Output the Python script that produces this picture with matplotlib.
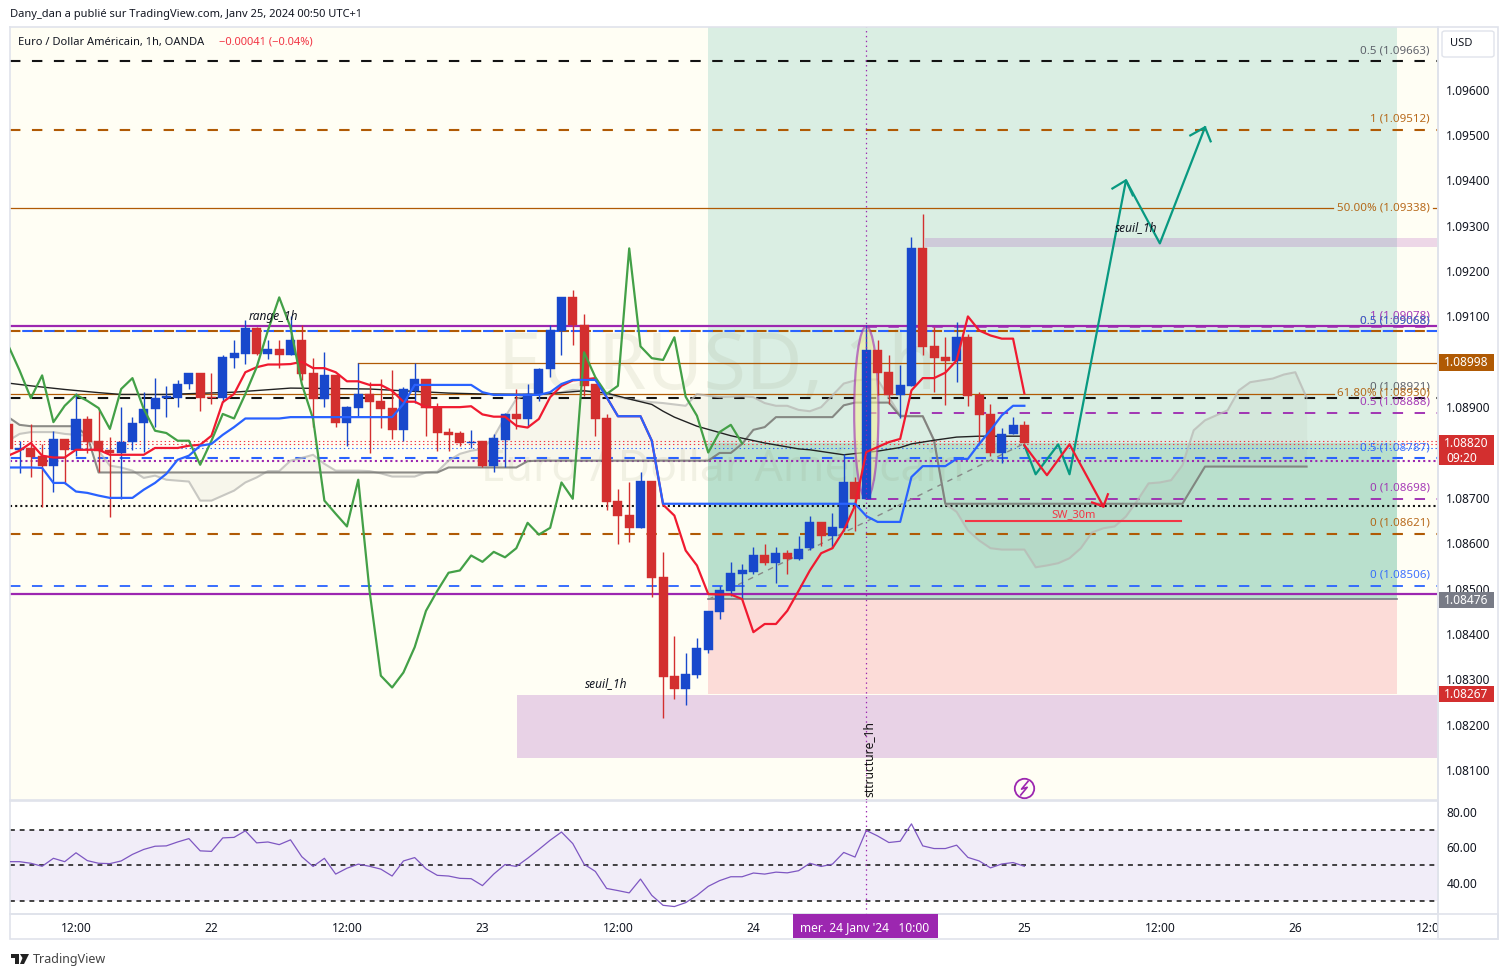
import matplotlib
matplotlib.use('Agg')
from matplotlib import pyplot as plt
from matplotlib.patches import Ellipse, Rectangle, Polygon, FancyBboxPatch
from matplotlib.transforms import Bbox
import numpy as np

### EURUSD 1h chart with ichimoku, fib levels and RSI

plt.rcParams['font.family'] = ['Noto Sans', 'DejaVu Sans']
plt.rcParams['lines.scale_dashes'] = False

W, H = 1508, 977

bars = list(range(-6, 85))
opens = [1.08863,1.08806,1.08809,1.08793,1.08771,1.08830,1.08806,1.08873,1.08825,1.08806,1.08800,1.08823,1.08864,1.08895,1.08921,1.08920,
         1.08950,1.08976,1.08923,1.08920,1.09009,1.09018,1.09074,1.09018,1.09029,1.09016,1.09049,1.08976,1.08917,1.08970,1.08864,1.08899,
         1.08928,1.08914,1.08899,1.08850,1.08936,1.08963,1.08899,1.08846,1.08842,1.08822,1.08825,1.08771,1.08828,1.08884,1.08873,1.08928,
         1.08983,1.09067,1.09142,1.09082,1.08950,1.08875,1.08694,1.08663,1.08634,1.08738,1.08526,1.08308,1.08279,1.08310,1.08365,1.08449,
         1.08495,1.08533,1.08537,1.08573,1.08557,1.08579,1.08566,1.08589,1.08646,1.08617,1.08633,1.08734,1.08697,1.09025,1.08977,1.08926,
         1.08946,1.09250,1.09034,1.09010,1.09001,1.09054,1.08926,1.08884,1.08798,1.08840,1.08860]
highs = [1.08863,1.08825,1.08863,1.08819,1.08848,1.08830,1.08931,1.08881,1.08894,1.08834,1.08900,1.08879,1.08934,1.08964,1.08947,1.08959,
         1.08976,1.08976,1.08976,1.09016,1.09049,1.09092,1.09076,1.09047,1.09047,1.09102,1.09080,1.09009,1.09022,1.08970,1.08903,1.08997,
         1.08955,1.08962,1.08982,1.08945,1.08997,1.08963,1.08910,1.08855,1.08848,1.08850,1.08825,1.08841,1.08888,1.08939,1.08952,1.08986,
         1.09080,1.09142,1.09159,1.09106,1.08950,1.08884,1.08720,1.08734,1.08758,1.08738,1.08581,1.08396,1.08357,1.08392,1.08451,1.08506,
         1.08559,1.08555,1.08592,1.08599,1.08592,1.08584,1.08615,1.08661,1.08646,1.08666,1.08797,1.08746,1.09080,1.09047,1.09016,1.08992,
         1.09274,1.09325,1.09077,1.09054,1.09087,1.09061,1.08933,1.08908,1.08853,1.08878,1.08869]
lows = [1.08808,1.08754,1.08745,1.08679,1.08714,1.08731,1.08793,1.08800,1.08756,1.08657,1.08698,1.08806,1.08802,1.08857,1.08879,1.08900,
        1.08941,1.08892,1.08906,1.08911,1.08987,1.08996,1.09014,1.09006,1.08986,1.09014,1.08959,1.08856,1.08900,1.08857,1.08815,1.08879,
        1.08800,1.08853,1.08830,1.08826,1.08910,1.08837,1.08803,1.08803,1.08815,1.08809,1.08767,1.08758,1.08767,1.08852,1.08856,1.08914,
        1.08967,1.09016,1.09038,1.08925,1.08837,1.08674,1.08599,1.08603,1.08634,1.08482,1.08215,1.08257,1.08244,1.08304,1.08357,1.08434,
        1.08484,1.08477,1.08533,1.08553,1.08513,1.08533,1.08562,1.08585,1.08595,1.08590,1.08628,1.08626,1.08697,1.08926,1.08908,1.08877,
        1.08946,1.09016,1.08933,1.08904,1.08955,1.08902,1.08816,1.08792,1.08776,1.08840,1.08820]
closes = [1.08808,1.08809,1.08791,1.08771,1.08830,1.08806,1.08873,1.08823,1.08804,1.08800,1.08824,1.08866,1.08897,1.08921,1.08924,1.08952,
          1.08976,1.08920,1.08920,1.09011,1.09020,1.09074,1.09018,1.09029,1.09016,1.09049,1.08974,1.08917,1.08970,1.08864,1.08901,1.08928,
          1.08912,1.08897,1.08850,1.08939,1.08963,1.08899,1.08844,1.08839,1.08822,1.08824,1.08771,1.08831,1.08884,1.08873,1.08928,1.08985,
          1.09069,1.09142,1.09080,1.08947,1.08873,1.08692,1.08661,1.08634,1.08738,1.08524,1.08306,1.08279,1.08312,1.08368,1.08451,1.08498,
          1.08535,1.08540,1.08573,1.08557,1.08579,1.08566,1.08588,1.08646,1.08617,1.08635,1.08734,1.08697,1.09025,1.08975,1.08926,1.08948,
          1.09250,1.09032,1.09008,1.09001,1.09054,1.08924,1.08882,1.08798,1.08840,1.08860,1.08820]

tenkan = [1.08793,1.08804,1.08821,1.08793,1.08789,1.08789,1.08806,1.08806,1.08806,1.08795,1.08795,1.08795,1.08795,1.08810,1.08810,1.08810,
          1.08815,1.08817,1.08837,1.08911,1.08929,1.08977,1.08988,1.08994,1.08994,1.08995,1.09000,1.08986,1.08986,1.08977,1.08957,1.08957,
          1.08949,1.08949,1.08936,1.08912,1.08912,1.08900,1.08900,1.08900,1.08900,1.08902,1.08884,1.08879,1.08879,1.08859,1.08855,1.08874,
          1.08922,1.08947,1.08959,1.08961,1.08964,1.08922,1.08880,1.08880,1.08880,1.08826,1.08685,1.08661,1.08584,1.08551,1.08488,1.08487,
          1.08487,1.08477,1.08404,1.08422,1.08422,1.08451,1.08495,1.08540,1.08578,1.08589,1.08628,1.08683,1.08801,1.08812,1.08823,1.08830,
          1.08937,1.08964,1.08964,1.08976,1.09003,1.09100,1.09069,1.09058,1.09051,1.09051,1.08930]
kijun = [1.08767,1.08767,1.08767,1.08766,1.08733,1.08733,1.08714,1.08711,1.08705,1.08700,1.08700,1.08700,1.08718,1.08733,1.08753,1.08784,
         1.08793,1.08815,1.08819,1.08839,1.08856,1.08875,1.08875,1.08875,1.08875,1.08878,1.08878,1.08878,1.08878,1.08878,1.08878,1.08878,
         1.08878,1.08878,1.08878,1.08907,1.08949,1.08949,1.08949,1.08949,1.08949,1.08949,1.08933,1.08927,1.08927,1.08927,1.08927,1.08927,
         1.08933,1.08951,1.08960,1.08960,1.08960,1.08922,1.08880,1.08880,1.08880,1.08826,1.08687,1.08687,1.08687,1.08687,1.08687,1.08687,
         1.08687,1.08687,1.08687,1.08687,1.08687,1.08687,1.08687,1.08687,1.08687,1.08687,1.08687,1.08687,1.08660,1.08647,1.08647,1.08647,
         1.08746,1.08770,1.08770,1.08770,1.08786,1.08786,1.08819,1.08849,1.08882,1.08903,1.08903]

chikou = [1.09036,1.08981,1.08920,1.08970,1.08867,1.08903,1.08927,1.08914,1.08898,1.08852,1.08940,1.08964,1.08896,1.08848,1.08843,1.08826,
          1.08826,1.08773,1.08826,1.08885,1.08875,1.08929,1.08988,1.09069,1.09142,1.09076,1.08951,1.08874,1.08694,1.08665,1.08637,1.08740,
          1.08495,1.08308,1.08282,1.08315,1.08371,1.08451,1.08495,1.08535,1.08540,1.08573,1.08559,1.08581,1.08569,1.08589,1.08645,1.08619,
          1.08634,1.08734,1.08698,1.09021,1.08966,1.08929,1.08947,1.09250,1.09034,1.09008,1.09004,1.09054,1.08923,1.08881,1.08800,1.08845,
          1.08861,1.08820]

span_a = [1.08826,1.08841,1.08845,1.08845,1.08845,1.08841,1.08839,1.08837,1.08804,1.08771,1.08767,1.08760,1.08744,1.08749,1.08740,1.08738,
          1.08736,1.08694,1.08694,1.08705,1.08716,1.08734,1.08745,1.08759,1.08759,1.08782,1.08788,1.08795,1.08775,1.08760,1.08760,1.08760,
          1.08759,1.08754,1.08747,1.08747,1.08747,1.08756,1.08758,1.08782,1.08797,1.08804,1.08808,1.08834,1.08878,1.08918,1.08929,1.08929,
          1.08929,1.08933,1.08938,1.08936,1.08933,1.08929,1.08922,1.08918,1.08914,1.08911,1.08909,1.08906,1.08903,1.08929,1.08925,1.08922,
          1.08923,1.08924,1.08922,1.08909,1.08903,1.08903,1.08894,1.08891,1.08900,1.08926,1.08952,1.08959,1.08961,1.08961,1.08922,1.08882,
          1.08880,1.08880,1.08827,1.08687,1.08669,1.08628,1.08606,1.08589,1.08586,1.08586,1.08586,1.08547,1.08551,1.08556,1.08567,1.08589,
          1.08624,1.08633,1.08637,1.08659,1.08694,1.08732,1.08734,1.08739,1.08772,1.08849,1.08871,1.08882,1.08893,1.08937,1.08955,1.08959,
          1.08963,1.08972,1.08977,1.08921]
span_b = [1.08878,1.08861,1.08858,1.08858,1.08858,1.08858,1.08858,1.08836,1.08756,1.08756,1.08756,1.08756,1.08756,1.08756,1.08756,1.08756,
          1.08756,1.08756,1.08756,1.08756,1.08756,1.08756,1.08756,1.08756,1.08756,1.08756,1.08756,1.08756,1.08756,1.08756,1.08756,1.08756,
          1.08756,1.08756,1.08756,1.08756,1.08756,1.08756,1.08756,1.08767,1.08767,1.08767,1.08767,1.08767,1.08767,1.08767,1.08781,1.08782,
          1.08782,1.08782,1.08782,1.08782,1.08782,1.08782,1.08782,1.08782,1.08782,1.08782,1.08782,1.08782,1.08782,1.08782,1.08782,1.08799,
          1.08799,1.08819,1.08850,1.08856,1.08878,1.08878,1.08878,1.08878,1.08878,1.08878,1.08904,1.08910,1.08910,1.08910,1.08910,1.08880,
          1.08880,1.08880,1.08827,1.08687,1.08687,1.08687,1.08687,1.08687,1.08687,1.08687,1.08687,1.08687,1.08687,1.08687,1.08687,1.08687,
          1.08687,1.08687,1.08687,1.08687,1.08687,1.08687,1.08687,1.08687,1.08687,1.08728,1.08769,1.08769,1.08769,1.08769,1.08769,1.08769,
          1.08769,1.08769,1.08769,1.08769]

ma_bars = [-6,-4,-1,2,4,8,14,19,26,29,33,36,41,45,47,49,51,52,53,55,58,61,64,65,68,71,73,74,76,78,80,84]
ma_vals = [1.08953,1.08947,1.08939,1.08932,1.08928,1.08928,1.08933,1.08942,1.08940,1.08936,1.08931,1.08929,1.08928,1.08936,1.08931,
           1.08918,1.08906,1.08891,1.08878,1.08858,1.08837,1.08821,1.08808,1.08806,1.08795,1.08803,1.08811,1.08819,1.08827,1.08834,1.08836,1.08836]

rsi = [52.0,52.0,51.1,49.4,53.9,52.0,57.0,52.6,51.1,50.9,52.4,56.1,58.9,60.7,60.9,63.1,65.0,58.1,57.8,65.4,65.7,69.4,62.6,63.1,61.6,64.3,
       54.8,49.3,53.9,45.0,48.3,50.6,49.4,47.8,43.9,52.4,54.3,48.0,44.3,43.9,42.6,42.4,38.5,45.0,50.4,49.3,53.9,58.9,64.1,68.7,62.2,50.6,
       46.5,36.9,35.7,34.4,42.2,33.0,27.4,26.7,28.9,33.0,38.1,41.3,43.5,43.5,45.6,45.0,46.1,45.7,46.9,51.1,49.3,50.6,57.2,54.6,69.6,66.5,
       62.8,63.5,73.3,60.9,59.4,59.4,61.3,54.4,52.4,48.5,50.7,51.5,49.4]

price_ticks = [1.096,1.095,1.094,1.093,1.092,1.091,1.089,1.087,1.086,1.085,1.084,1.083,1.082,1.081]
rsi_ticks = [80, 60, 40]
time_ticks = [0, 12, 24, 36, 48, 60, 84, 96, 108, 120]
time_labels = ['12:00', '22', '12:00', '23', '12:00', '24', '25', '12:00', '26', '12:00']

# planned paths drawn on the chart
up_bars = [84, 85, 87, 88, 93, 96, 100]
up_vals = [1.08816, 1.08752, 1.08818, 1.08752, 1.09400, 1.09261, 1.09517]
down_bars = [84, 86, 88, 91]
down_vals = [1.08816, 1.08750, 1.08818, 1.08681]

PURPLE = '#9c27b0'
BROWN = '#b05a04'
BLUE = '#2962ff'
CANDLE_UP = '#1848cc'
CANDLE_DN = '#d32f2f'
BORDER = '#e0e3eb'
TXT = '#131722'

fig = plt.figure(figsize=(W / 100, H / 100), dpi=100, facecolor='white')


def axes_px(x0, y0, x1, y1):
    return fig.add_axes([x0 / W, 1 - y1 / H, (x1 - x0) / W, (y1 - y0) / H])


def ftext(x, y, s, **kw):
    return fig.text(x / W, 1 - y / H, s, **kw)


ax = axes_px(10, 27, 1438, 800)
ax_rsi = axes_px(10, 801, 1438, 914)
x0_bar, x1_bar = (10 - 76) / 11.29, (1438 - 76) / 11.29
for a in (ax, ax_rsi):
    a.set_xlim(x0_bar, x1_bar)
    a.yaxis.tick_right()
    for s in a.spines.values():
        s.set_color(BORDER)
        s.set_linewidth(1.2)
ax.set_ylim(1.08034, 1.09738)
ax.set_facecolor('#fffef4')
ax.set_xticks([])
ax.set_yticks(price_ticks, [f'{p:.5f}' for p in price_ticks])
ax.tick_params(axis='y', length=0, pad=6, labelsize=8.6, labelcolor=TXT)

# long position + demand zones
ax.add_patch(Rectangle((56, 1.08476), 61, 0.02, color='#daeee3', lw=0, zorder=0.5))
ax.add_patch(Rectangle((56, 1.08476), 61, 1.08820 - 1.08476, color='#b9e0cd', lw=0, zorder=0.6))
ax.add_patch(Rectangle((56, 1.08267), 61, 1.08476 - 1.08267, color='#fcdcd8', lw=0, zorder=0.5))
ax.add_patch(Rectangle((39.06, 1.08127), 90, 1.08265 - 1.08127, color='#e8d2e6', lw=0, zorder=0.7))
ax.add_patch(Rectangle((75.2, 1.09252), 60, 1.09272 - 1.09252, color=PURPLE, alpha=0.18, lw=0, zorder=0.7))
ax.plot([56, 117], [1.08476, 1.08476], color='#787b86', lw=1.2, zorder=1)

# watermark
ax.text(56.8, 1.08985, 'EURUSD, 1h', fontsize=56, color='#888860', alpha=0.11, ha='center', va='center', zorder=1)
ax.text(57.3, 1.08761, 'Euro / Dollar Américain', fontsize=32, color='#888860', alpha=0.11, ha='center', va='center', zorder=1)


def level(price, color, lw=1.5, dash=None, start=x0_bar, stop=x1_bar, z=2):
    ls = '-' if dash is None else dash
    ax.plot([start, stop], [price, price], color=color, lw=lw, ls=ls, zorder=z, dash_capstyle='butt')


DASH = (0, (7.5, 8.3))
level(1.09663, '#131313', 1.5, DASH)
level(1.09512, BROWN, 1.5, DASH)
level(1.09338, BROWN, 0.9, None, x0_bar, 111.3)
level(1.09338, BROWN, 0.9, None, 120.2)
level(1.09078, PURPLE, 1.6)
level(1.09078, PURPLE, 1.8, DASH, 70)
level(1.09068, BROWN, 1.5, DASH)
level(1.09068, BLUE, 1.5, (7, (7.5, 8.3)))
level(1.08998, BROWN, 0.9, None, 25)
level(1.08930, BROWN, 0.9, None, x0_bar, 111.4)
level(1.08921, '#131313', 1.5, DASH)
level(1.08888, PURPLE, 1.3, DASH, 70)
level(1.08825, '#f23645', 0.8, (0, (1, 2)))
level(1.08819, '#f23645', 0.8, (0, (1, 2)))
level(1.08810, BLUE, 0.8, (0, (1, 2)))
level(1.08787, BLUE, 1.5, DASH)
level(1.08782, PURPLE, 1.5, (0, (1.5, 2.2)))
level(1.08698, PURPLE, 1.3, DASH, 70)
level(1.08683, '#131313', 1.5, (0, (1.5, 2.2)))
level(1.08621, BROWN, 1.5, DASH)
level(1.08506, BLUE, 1.3, DASH)
level(1.08489, PURPLE, 1.6)

# fib labels, right aligned above their lines (the two percent ones sit on the line)
fib_labels = [(1.09663, '0.5 (1.09663)', '#50535e'), (1.09512, '1 (1.09512)', BROWN), (1.09078, '1 (1.09078)', PURPLE),
              (1.09068, '0.5 (1.09068)', BROWN), (1.09068, '0.5 (1.09068)', BLUE), (1.08921, '0 (1.08921)', '#50535e'),
              (1.08888, '0.5 (1.08888)', PURPLE), (1.08787, '0.5 (1.08787)', BLUE), (1.08698, '0 (1.08698)', PURPLE),
              (1.08621, '0 (1.08621)', BROWN), (1.08506, '0 (1.08506)', BLUE)]
for price, label, col in fib_labels:
    ax.annotate(label, (119.9, price), xytext=(0, 7.5), textcoords='offset points', color=col, fontsize=8.3,
                ha='right', va='center', zorder=3, alpha=0.9)
for price, label in [(1.09338, '50.00% (1.09338)'), (1.08930, '61.80% (1.08930)')]:
    ax.annotate(label, (119.9, price), xytext=(0, 0.5), textcoords='offset points', color=BROWN, fontsize=8.3,
                ha='right', va='center', zorder=3, alpha=0.9)

# ichimoku cloud
cloud_x = np.arange(-6, 110)
ax.fill_between(cloud_x, span_a, span_b, color='#777060', alpha=0.055, lw=0, zorder=1.5)
ax.plot(cloud_x, span_a, color='#b8b8b4', lw=1.5, alpha=0.75, zorder=2.2)
ax.plot(cloud_x, span_b, color='#787874', lw=1.5, alpha=0.85, zorder=2.2)
ax.plot(ma_bars, ma_vals, color='#222', lw=1, zorder=2.5)

# ellipse on the breakout candle
ax.add_patch(Ellipse((70, 1.08888), 2.15, 1.09078 - 1.08698, fc='#f3ee9c', ec=PURPLE, alpha=0.6, lw=1.6, zorder=2.6))
ax.plot([56, 84], [1.08476, 1.08820], color='#888', lw=1, ls=(0, (4, 4)), zorder=2.7)

# candles
for b, o, h, l, c in zip(bars, opens, highs, lows, closes):
    col = CANDLE_UP if c >= o else CANDLE_DN
    ax.plot([b, b], [l, h], color=col, lw=1, zorder=3, solid_capstyle='butt')
    ax.add_patch(Rectangle((b - 0.4, min(o, c)), 0.8, abs(c - o), fc=col, ec=col, lw=0.3, zorder=3.1))

# indicator lines
ax.plot(bars, tenkan, color='#f01a30', lw=1.6, zorder=4)
ax.plot(bars, kijun, color=BLUE, lw=1.6, zorder=4.1)
ax.plot(np.arange(-6, 60), chikou, color='#43a047', lw=1.6, zorder=4)

# planned paths
TEAL = '#089981'
RED2 = '#f01a30'
ax.plot(up_bars, up_vals, color=TEAL, lw=1.6, zorder=5)
ax.plot([91.8, 93, 93.6], [1.09382, 1.09400, 1.09367], color=TEAL, lw=1.6, zorder=5)
ax.plot([98.7, 100, 100.5], [1.09499, 1.09517, 1.09486], color=TEAL, lw=1.6, zorder=5)
ax.plot(down_bars, down_vals, color=RED2, lw=1.6, zorder=5)
ax.plot([90, 91, 91.4], [1.08690, 1.08681, 1.08708], color=RED2, lw=1.6, zorder=5)
ax.plot([78.8, 97.9], [1.08650, 1.08650], color='#f23645', lw=1.5, zorder=5)

ax.text(88.4, 1.08663, 'SW_30m', color='#f23645', fontsize=8, ha='center', va='center', zorder=5)
ax.text(47, 1.08290, 'seuil_1h', color=TXT, fontsize=8.6, style='italic', ha='center', va='center', zorder=5)
ax.text(93.9, 1.09295, 'seuil_1h', color=TXT, fontsize=8.6, style='italic', ha='center', va='center', zorder=5)
ax.text(17.5, 1.09100, 'range_1h', color=TXT, fontsize=8.6, style='italic', ha='center', va='center', zorder=5)
ax.text(70.2, 1.08040, 'sttructure_1h', color='#111', fontsize=8.6, fontweight='bold', rotation=90, ha='center', va='bottom', zorder=7)

# crosshair through both panes
for a in (ax, ax_rsi):
    a.axvline(70, color=PURPLE, lw=0.9, ls=(0, (1, 2.5)), zorder=6)

# lightning mark
ax.plot([84], [1.08060], marker='o', ms=14, mfc='none', mec=PURPLE, mew=1.3, zorder=6)
ax.plot([84.32, 83.75, 84.25, 83.68], [1.08075, 1.08058, 1.08062, 1.08045], color=PURPLE, lw=1.2, zorder=6)

# rsi pane
ax_rsi.set_ylim(22.5, 86.2)
ax_rsi.set_xticks(time_ticks, time_labels)
ax_rsi.set_yticks(rsi_ticks, [f'{v:.2f}' for v in rsi_ticks])
ax_rsi.tick_params(axis='y', length=0, pad=6, labelsize=8.6, labelcolor=TXT)
ax_rsi.tick_params(axis='x', length=0, pad=6, labelsize=8.6, labelcolor=TXT)
for lab, t in zip(ax_rsi.get_xticklabels(), time_labels):
    if ':' not in t:
        lab.set_fontweight('bold')
    lab.set_clip_box(Bbox([[10, 0], [1438, H]]))
    lab.set_clip_on(True)
ax_rsi.axhspan(30, 70, color='#7e57c2', alpha=0.1, lw=0)
for lvl in (70, 50, 30):
    ax_rsi.axhline(lvl, color='#111', lw=1.1, ls=(0, (3.5, 3.5)))
ax_rsi.plot(bars, rsi, color='#7e57c2', lw=0.9, zorder=4)

# frame of the widget
fig.add_artist(Rectangle((1438 / W, 1 - 939 / H), 60 / W, 912 / H, fc='none', ec=BORDER, lw=1.2))
fig.add_artist(Rectangle((10 / W, 1 - 939 / H), 1488 / W, 25 / H, fc='none', ec=BORDER, lw=1.2))

# header and footer
ftext(10, 15, 'Dany_dan a publié sur TradingView.com, Janv 25, 2024 00:50 UTC+1', fontsize=8, color=TXT, va='center')
ftext(18, 42, 'Euro / Dollar Américain, 1h, OANDA', fontsize=8, color=TXT, va='center')
ftext(219, 42, '−0.00041 (−0.04%)', fontsize=8, color='#f23645', va='center')
ftext(33, 959, 'TradingView', fontsize=9, color='#444', va='center')
logo = [[(11, 954), (19, 954), (19, 964), (15, 964), (15, 958), (11, 958)], [(20, 954), (29, 954), (24, 964), (20, 964), (22.5, 958)]]
for pts in logo:
    fig.add_artist(Polygon([(x / W, 1 - y / H) for x, y in pts], fc='#222', ec='none'))

# price tags on the scale
tags = [(354, 371, '1.08998', BROWN), (435, 465, '1.08820', CANDLE_DN), (592, 608, '1.08476', '#787b86'), (686, 702, '1.08267', CANDLE_DN)]
for y0, y1, label, col in tags:
    fig.add_artist(Rectangle((1439 / W, 1 - y1 / H), 55 / W, (y1 - y0) / H, fc=col, ec='none'))
    ty = (y0 + y1) / 2 if y1 - y0 < 20 else y0 + 9
    ftext(1466, ty, label, color='white', fontsize=8.6, fontweight='bold', ha='center', va='center')
ftext(1446, 458, '09:20', color='white', fontsize=8.6, va='center')
fig.add_artist(FancyBboxPatch((1442 / W, 1 - 57 / H), 52 / W, 26 / H, boxstyle='round,pad=0,rounding_size=0.002', fc='white', ec=BORDER, lw=1))
ftext(1461, 44, 'USD', color=TXT, fontsize=8, ha='center', va='center')

# crosshair time tag
fig.add_artist(Rectangle((793 / W, 1 - 938 / H), 145 / W, 24 / H, fc=PURPLE, ec='none'))
ftext(865, 928, "mer. 24 Janv '24   10:00", color='white', fontsize=8.6, fontweight='bold', ha='center', va='center')

fig.savefig('out.png', dpi=100)
